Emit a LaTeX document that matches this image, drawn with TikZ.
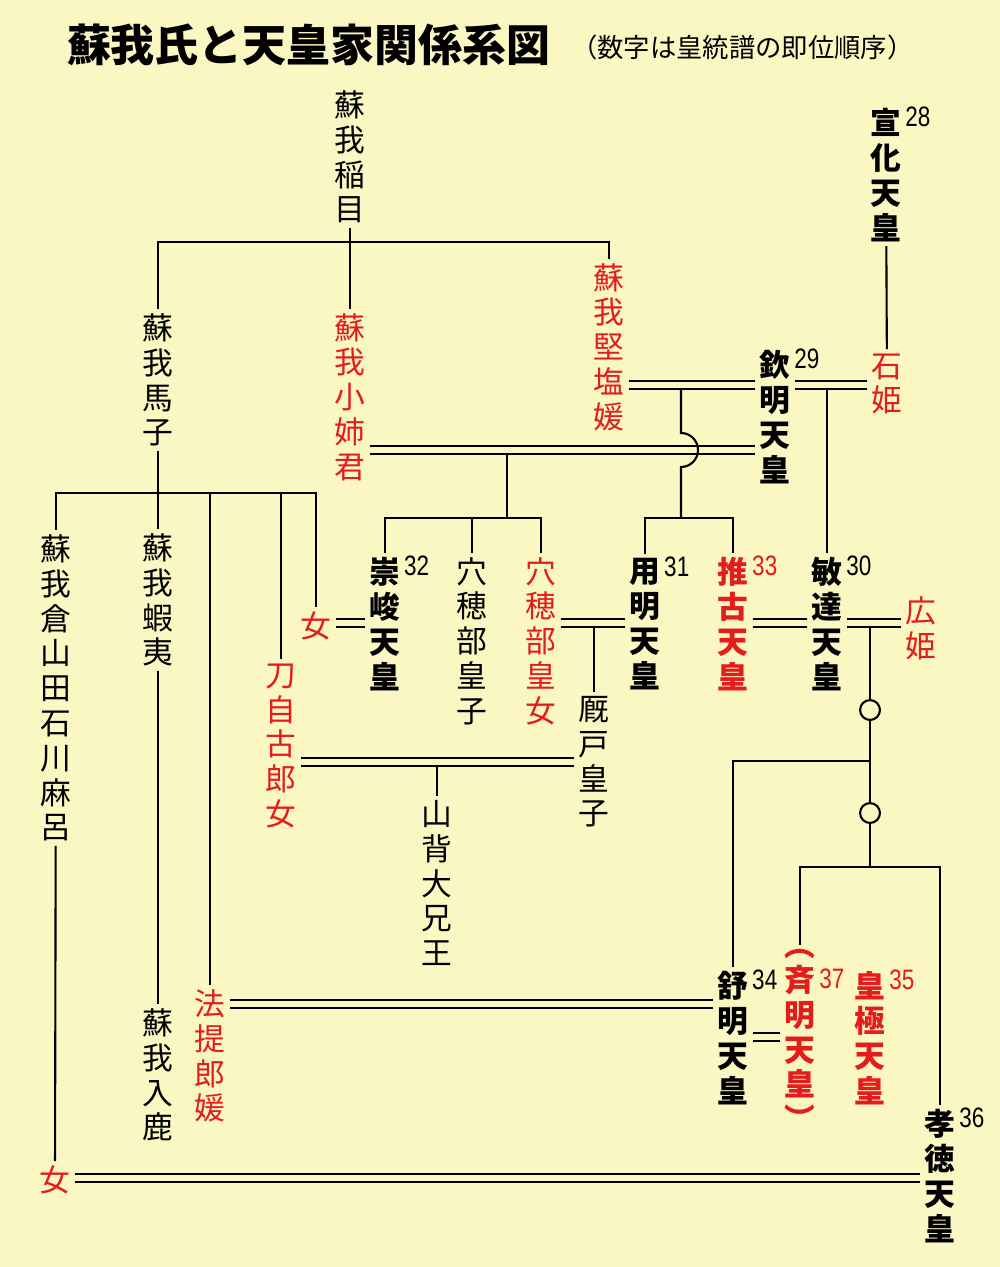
\documentclass[tikz,border=0pt]{standalone}
\usepackage{fontspec}
\usetikzlibrary{calc}
\newfontfamily\jp{Noto Sans CJK JP}
\newfontfamily\numfont[FakeStretch=0.8]{Liberation Sans}
\definecolor{paper}{RGB}{250,247,195}
\definecolor{jred}{RGB}{228,28,28}
\tikzset{
  pers/.style   = {align=center, inner sep=2pt,
                   font=\jp\fontsize{17.5}{19.8}\selectfont},
  persr/.style  = {pers, text=jred},
  tenno/.style  = {pers, font=\jp\bfseries\fontsize{17.5}{19.8}\selectfont},
  tennor/.style = {tenno, text=jred},
  num/.style    = {anchor=north west, inner sep=0pt, xshift=-1pt, yshift=-1pt,
                   font=\numfont\fontsize{16}{16}\selectfont},
  dbl/.style    = {double=paper, double distance=3.6pt},
  kid/.style    = {shorten <=2.4pt},
  ring/.style   = {circle, draw, fill=paper, inner sep=0pt, minimum size=11.3pt}
}
\begin{document}
\begin{tikzpicture}[x=0.02cm, y=-0.02cm, line width=1.2pt]
\fill[paper] (0,0) rectangle (1000,1267);
\useasboundingbox (0,0) rectangle (1000,1267);
\node[font=\jp\bfseries\fontsize{25}{25}\selectfont, anchor=west, inner sep=0pt] (title) at (66,45) {蘇我氏と天皇家関係系図};
\node[font=\jp\fontsize{15}{15}\selectfont, anchor=west, inner sep=0pt] (subtitle) at (570,47) {（数字は皇統譜の即位順序）};

\node[pers] (inamei) at (350,157) {蘇\\我\\稲\\目};
\node[tenno, label={[num]north east:28}] (senka) at (886,175) {宣\\化\\天\\皇};
\node[pers] (umako) at (158,380) {蘇\\我\\馬\\子};
\node[persr] (koane) at (350,397) {蘇\\我\\小\\姉\\君};
\node[persr] (kitashi) at (609,347) {蘇\\我\\堅\\塩\\媛};
\node[tenno, label={[num]north east:29}] (kinmei) at (775,417) {欽\\明\\天\\皇};
\node[persr] (ishi) at (887,384) {石\\姫};
\node[persr] (onna1) at (316,626) {女};
\node[tenno, label={[num]north east:32}] (sushun) at (385,624) {崇\\峻\\天\\皇};
\node[pers] (anahobe) at (472,641) {穴\\穂\\部\\皇\\子};
\node[persr] (anahobeH) at (541,641) {穴\\穂\\部\\皇\\女};
\node[tenno, label={[num]north east:31}] (yomei) at (645,624) {用\\明\\天\\皇};
\node[tennor, label={[num,text=jred]north east:33}] (suiko) at (733,624) {推\\古\\天\\皇};
\node[tenno, label={[num]north east:30}] (bidatsu) at (827,624) {敏\\達\\天\\皇};
\node[persr] (hiro) at (921,628) {広\\姫};
\node[pers] (umayado) at (594,762) {厩\\戸\\皇\\子};
\node[persr] (tojiko) at (281,746) {刀\\自\\古\\郎\\女};
\node[pers] (yamashiro) at (437,883) {山\\背\\大\\兄\\王};
\node[pers] (kura) at (56,688) {蘇\\我\\倉\\山\\田\\石\\川\\麻\\呂};
\node[pers] (emishi) at (158,600) {蘇\\我\\蝦\\夷};
\node[pers] (iruka) at (158,1075) {蘇\\我\\入\\鹿};
\node[persr] (hote) at (210,1056) {法\\提\\郎\\媛};
\node[tenno, label={[num]north east:34}] (jomei) at (733,1038) {舒\\明\\天\\皇};
\node[tennor, label={[num,text=jred,yshift=-12pt]north east:37}] (saimei) at (800,1040) {︵\\斉\\明\\天\\皇\\︶};
\node[tennor, label={[num,text=jred]north east:35}] (kogyoku) at (870,1038) {皇\\極\\天\\皇};
\node[tenno, label={[num]north east:36}] (kotoku) at (940,1176) {孝\\徳\\天\\皇};
\node[persr] (onna2) at (55,1180) {女};
\node[ring] (c1) at (870,710) {};
\node[ring] (c2) at (870,813) {};

\coordinate (j1) at (350,242);
\coordinate (j2) at (681,518);
\coordinate (j3) at (507,518);
\coordinate (j4) at (870,761);
\coordinate (j5) at (870,867);
\coordinate (j6) at (158,493);
\coordinate (m1) at (681,385);
\coordinate (m2) at (827,385);
\coordinate (m3) at (507,450);
\coordinate (m4) at (350,623);
\coordinate (m5) at (594,623);
\coordinate (m6) at (780,623);
\coordinate (m7) at (870,623);
\coordinate (m8) at (437,762);
\coordinate (m9) at (470,1004);
\coordinate (m10) at (767,1037);
\coordinate (m11) at (500,1178);

\draw (inamei) -- (koane);
\draw (umako) |- (j1) -| (kitashi);
\draw (senka) -- (ishi);
\draw (umako) -- (emishi);
\draw (kura) |- (j6) -| (onna1);
\draw (hote) -- (hote |- j6);
\draw (tojiko) -- (tojiko |- j6);
\draw (emishi) -- (iruka);
\draw (kura) -- (onna2);
\draw (sushun) |- (j3) -| (anahobeH);
\draw (anahobe) -- (anahobe |- j3);
\draw (yomei) |- (j2) -| (suiko);
\draw (c1) -- (c2);
\draw (j4) -| (jomei);
\draw (c2) -- (j5);
\draw (saimei) |- (j5) -| (kotoku);

\draw[dbl] (kitashi.east |- m1) -- (kinmei.west |- m1);
\draw[dbl] (kinmei.east |- m2) -- (ishi.west |- m2);
\draw[dbl] (koane.east |- m3) -- (kinmei.west |- m3);
\draw[dbl] (onna1.east |- m4) -- (sushun.west |- m4);
\draw[dbl] (anahobeH.east |- m5) -- (yomei.west |- m5);
\draw[dbl] (suiko.east |- m6) -- (bidatsu.west |- m6);
\draw[dbl] (bidatsu.east |- m7) -- (hiro.west |- m7);
\draw[dbl] (tojiko.east |- m8) -- (umayado.west |- m8);
\draw[dbl] (hote.east |- m9) -- (jomei.west |- m9);
\draw[dbl] (jomei.east |- m10) -- (saimei.west |- m10);
\draw[dbl] (onna2.east |- m11) -- (kotoku.west |- m11);

\draw[kid] (m1) -- ($(m1 |- m3)+(0,-17)$) arc (-90:90:17) -- (j2);
\draw[kid] (m2) -- (bidatsu);
\draw[kid] (m3) -- (j3);
\draw[kid] (m5) -- (umayado);
\draw[kid] (m7) -- (c1);
\draw[kid] (m8) -- (yamashiro);
\end{tikzpicture}
\end{document}
